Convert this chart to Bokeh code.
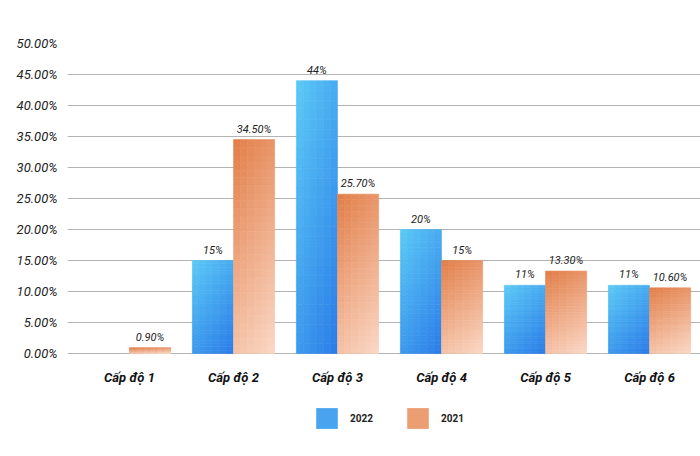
from bokeh.plotting import figure
from bokeh.models import Range1d, FixedTicker, Legend, LegendItem, ColumnDataSource
from bokeh.core.properties import value
from bokeh.embed import file_html
from bokeh.resources import INLINE

# ---- data ----
categories = ["Cấp độ 1", "Cấp độ 2", "Cấp độ 3", "Cấp độ 4", "Cấp độ 5", "Cấp độ 6"]
series = ["2022", "2021"]
v2022 = [None, 15, 44, 20, 11, 11]
v2021 = [0.9, 34.5, 25.7, 15, 13.3, 10.6]
lbl2022 = ["", "15%", "44%", "20%", "11%", "11%"]
lbl2021 = ["0.90%", "34.50%", "25.70%", "15%", "13.30%", "10.60%"]
y_ticks = [0, 5, 10, 15, 20, 25, 30, 35, 40, 45, 50]
y_tick_labels = ["0.00%", "5.00%", "10.00%", "15.00%", "20.00%", "25.00%",
                 "30.00%", "35.00%", "40.00%", "45.00%", "50.00%"]

FONT = "Roboto"
BAR_W = 0.395
OFF = 0.198
NX, NY = 6, 28

BLUE_TOP, BLUE_BOT = (92, 202, 246), (42, 124, 232)
ORG_TOP, ORG_BOT = (226, 126, 72), (251, 216, 198)


def hexcol(c):
    return "#%02x%02x%02x" % tuple(int(round(x)) for x in c)


def gradient(vals, dx, c0, c1, wx):
    d = dict(left=[], right=[], top=[], bottom=[], color=[])
    for i, v in enumerate(vals):
        if v is None:
            continue
        left = i + dx - BAR_W / 2
        for a in range(NX):
            for b in range(NY):
                t = wx * (a + 0.5) / NX + (1 - wx) * (b + 0.5) / NY
                col = tuple(c0[k] + (c1[k] - c0[k]) * t for k in range(3))
                d["left"].append(left + BAR_W * a / NX)
                d["right"].append(left + BAR_W * (a + 1) / NX)
                d["top"].append(v * (1 - b / NY))
                d["bottom"].append(v * (1 - (b + 1) / NY))
                d["color"].append(hexcol(col))
    return d


# frame spans from the 50% line down to the bottom of the picture
p = figure(width=700, height=456, output_backend="svg", toolbar_location=None,
           x_range=Range1d(-0.596, 5.49), y_range=Range1d(-16.61, 50),
           min_border_left=67, min_border_right=0, min_border_top=43,
           min_border_bottom=0)
p.outline_line_color = None
p.background_fill_color = "white"
p.xaxis.visible = False

# grid
p.xgrid.grid_line_color = None
p.ygrid.grid_line_color = "#b3b3b3"
p.ygrid.grid_line_width = 1
p.ygrid.ticker = FixedTicker(ticks=y_ticks)

# y axis
p.yaxis.ticker = FixedTicker(ticks=y_ticks)
p.yaxis.major_label_overrides = {t: l for t, l in zip(y_ticks, y_tick_labels)}
p.yaxis.axis_line_color = None
p.yaxis.major_tick_line_color = None
p.yaxis.minor_tick_line_color = None
p.yaxis.major_label_standoff = 4
p.yaxis.major_label_text_font = FONT
p.yaxis.major_label_text_font_style = "italic"
p.yaxis.major_label_text_font_size = "13px"
p.yaxis.major_label_text_color = "#222222"

# category labels under the groups
p.text(x=list(range(len(categories))), y=[0] * len(categories), text=categories,
       text_align="center", text_baseline="middle", y_offset=24,
       text_font=value(FONT), text_font_style="bold italic",
       text_font_size="13px", text_color="#111111")

# bars (gradient slices)
g22 = gradient(v2022, -OFF, BLUE_TOP, BLUE_BOT, 0.4)
g21 = gradient(v2021, OFF, ORG_TOP, ORG_BOT, 0.25)
p.quad(source=ColumnDataSource(g22), left="left", right="right", top="top",
       bottom="bottom", fill_color="color", line_color="color", line_width=0.6)
p.quad(source=ColumnDataSource(g21), left="left", right="right", top="top",
       bottom="bottom", fill_color="color", line_color="color", line_width=0.6)

# value labels
lx, ly, lt = [], [], []
for i, (v, l) in enumerate(zip(v2022, lbl2022)):
    if v is not None:
        lx.append(i - OFF); ly.append(v); lt.append(l)
for i, (v, l) in enumerate(zip(v2021, lbl2021)):
    lx.append(i + OFF); ly.append(v); lt.append(l)
p.text(x=lx, y=ly, text=lt, text_align="center", text_baseline="bottom",
       y_offset=-4, text_font=value(FONT), text_font_style="italic",
       text_font_size="11px", text_color="#222222")

# legend
r1 = p.quad(left=[0], right=[0], top=[0], bottom=[0], fill_color="#4aa3ef", line_color=None)
r2 = p.quad(left=[0], right=[0], top=[0], bottom=[0], fill_color="#ec9e73", line_color=None)
legend = Legend(items=[LegendItem(label=series[0], renderers=[r1]),
                       LegendItem(label=series[1], renderers=[r2])],
                orientation="horizontal", location=(246, 25),
                glyph_width=27, glyph_height=26, label_standoff=10, spacing=31,
                label_text_font=FONT, label_text_font_size="10px",
                label_text_font_style="bold", label_text_color="#222222",
                border_line_color=None, background_fill_alpha=0,
                margin=0, padding=10)
p.add_layout(legend, "center")

open("out.html", "w").write(file_html(p, INLINE))
